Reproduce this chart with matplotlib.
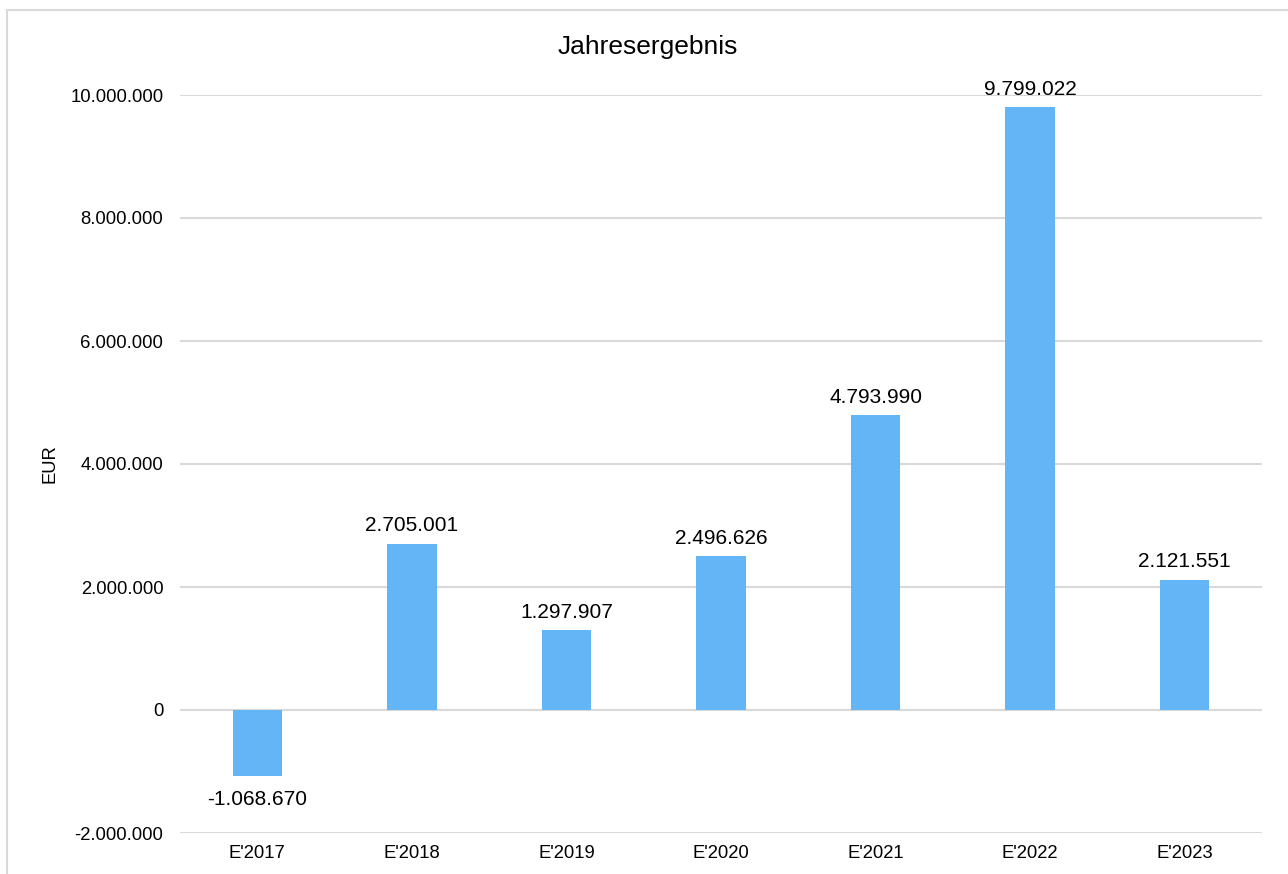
import matplotlib
matplotlib.use("Agg")
import matplotlib.pyplot as plt
from matplotlib.patches import Rectangle
from matplotlib.ticker import FuncFormatter

plt.rcParams['font.family'] = ['Liberation Sans', 'DejaVu Sans']

jahre = ["E'2017", "E'2018", "E'2019", "E'2020", "E'2021", "E'2022", "E'2023"]
ergebnis = [-1068670, 2705001, 1297907, 2496626, 4793990, 9799022, 2121551]
y_ticks = [-2000000, 0, 2000000, 4000000, 6000000, 8000000, 10000000]


def de_fmt(v, pos=None):
    s = f"{abs(int(round(v))):,}".replace(",", ".")
    return "-" + s if v < 0 else s


W, H = 1288, 874
fig = plt.figure(figsize=(W / 100, H / 100), dpi=100)
ax = fig.add_axes([180 / W, 1 - 833 / H, (1262 - 180) / W, (833 - 95) / H])

# chart frame
fig.patches.append(Rectangle((7 / W, -0.1), 1.2, 1 - 10 / H + 0.1, transform=fig.transFigure,
                             fill=False, edgecolor='#D9D9D9', linewidth=1.5))

x = range(len(jahre))
bars = ax.bar(x, ergebnis, width=0.32, color='#64B5F6', zorder=3)

for xi, v in zip(x, ergebnis):
    if v >= 0:
        ax.annotate(de_fmt(v), (xi, v), xytext=(0, 6), textcoords='offset points',
                    ha='center', va='bottom', fontsize=15, color='#000000')
    else:
        ax.annotate(de_fmt(v), (xi, v), xytext=(0, -10), textcoords='offset points',
                    ha='center', va='top', fontsize=15, color='#000000')

ax.set_ylim(-2000000, 10000000)
ax.set_xlim(-0.5, len(jahre) - 0.5)
ax.set_yticks(y_ticks)
ax.yaxis.set_major_formatter(FuncFormatter(de_fmt))
ax.set_xticks(list(x))
ax.set_xticklabels(jahre)
ax.tick_params(axis='both', length=0, labelsize=13.3, colors='#000000')
ax.tick_params(axis='y', pad=12)
ax.tick_params(axis='x', pad=9)
ax.grid(axis='y', color='#D9D9D9', linewidth=1.5, zorder=0)
for s in ax.spines.values():
    s.set_visible(False)

fig.text(648 / W, 1 - 47 / H, 'Jahresergebnis', ha='center', va='center', fontsize=19)
fig.text(50 / W, 1 - 464 / H, 'EUR', ha='center', va='center', rotation=90, fontsize=13.3)

fig.savefig('out.png', dpi=100)
